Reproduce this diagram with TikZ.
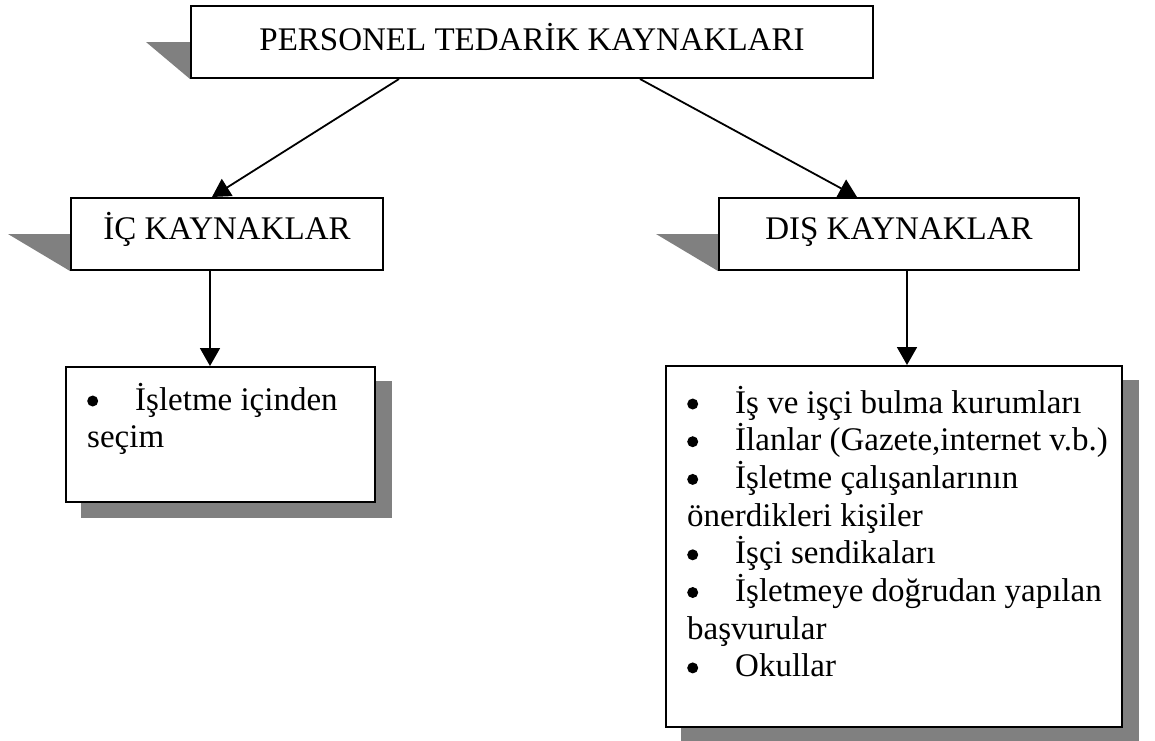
\documentclass[tikz,border=0pt]{standalone}
\usepackage{fontspec}
\setmainfont{Liberation Serif}
\usetikzlibrary{arrows.meta,calc,backgrounds}
\definecolor{shadowgray}{RGB}{128,128,128}
\tikzset{
  box/.style={draw=black, line width=2pt, fill=white, inner sep=0pt,
    font=\fontsize{33}{39}\selectfont},
  headbox/.style={box, minimum height=72pt, text height=22pt, text depth=11pt},
  conn/.style={draw=black, line width=1.8pt, -{Triangle[length=18pt,width=20pt]}},
  shade/.style={fill=shadowgray},
  btext/.style={anchor=base west, inner sep=0pt, font=\fontsize{33}{37.7}\selectfont},
}
\newcommand{\bl}{\makebox[48pt][l]{\tikz[baseline=0pt]\fill (5.5pt,9pt) circle (5.5pt);}}
\begin{document}
\begin{tikzpicture}[x=1pt,y=-1pt]
\useasboundingbox (0,0) rectangle (1155,740);
% boxes
\node[headbox, minimum width=682pt, text depth=5pt] (top) at (532,42) {PERSONEL TEDARİK KAYNAKLARI};
\node[headbox, minimum width=312pt] (ic) at (227,234) {İÇ KAYNAKLAR};
\node[headbox, minimum width=360pt] (dis) at (899,234) {DIŞ KAYNAKLAR};
\node[box, minimum width=309pt, minimum height=135pt] (icb) at (220.5,434.5) {};
\node[box, minimum width=456pt, minimum height=361pt] (disb) at (894,546.5) {};
% texts in bullet boxes
\node[btext] (icbt) at (87,410) {\parbox[t]{280pt}{\raggedright
\bl İşletme içinden\\
seçim}};
\node[btext] (disbt) at (687,413) {\parbox[t]{430pt}{\raggedright
\bl İş ve işçi bulma kurumları\\
\bl İlanlar (Gazete,internet v.b.)\\
\bl İşletme çalışanlarının\\
önerdikleri kişiler\\
\bl İşçi sendikaları\\
\bl İşletmeye doğrudan yapılan\\
başvurular\\
\bl Okullar}};
% shadows
\begin{scope}[on background layer]
\fill[shade] ([xshift=-44pt]top.west) -- (top.west) -- (top.south west) -- cycle;
\fill[shade] ([xshift=-62pt]ic.west) -- (ic.west) -- (ic.south west) -- cycle;
\fill[shade] ([xshift=-62pt]dis.west) -- (dis.west) -- (dis.south west) -- cycle;
\fill[shade] ([shift={(16pt,-15pt)}]icb.north west) rectangle ([shift={(16pt,-15pt)}]icb.south east);
\fill[shade] ([shift={(16pt,-15pt)}]disb.north west) rectangle ([shift={(16pt,-15pt)}]disb.south east);
\end{scope}
% connectors
\draw[conn] ([xshift=209pt]top.south west) -- ([xshift=142pt]ic.north west);
\draw[conn] ([xshift=450pt]top.south west) -- ([xshift=139pt]dis.north west);
\draw[conn] ([xshift=-17pt]ic.south) -- ([xshift=-17pt]ic.south |- icb.north);
\draw[conn] ([xshift=8pt]dis.south) -- ([xshift=8pt]dis.south |- disb.north);
\end{tikzpicture}
\end{document}
